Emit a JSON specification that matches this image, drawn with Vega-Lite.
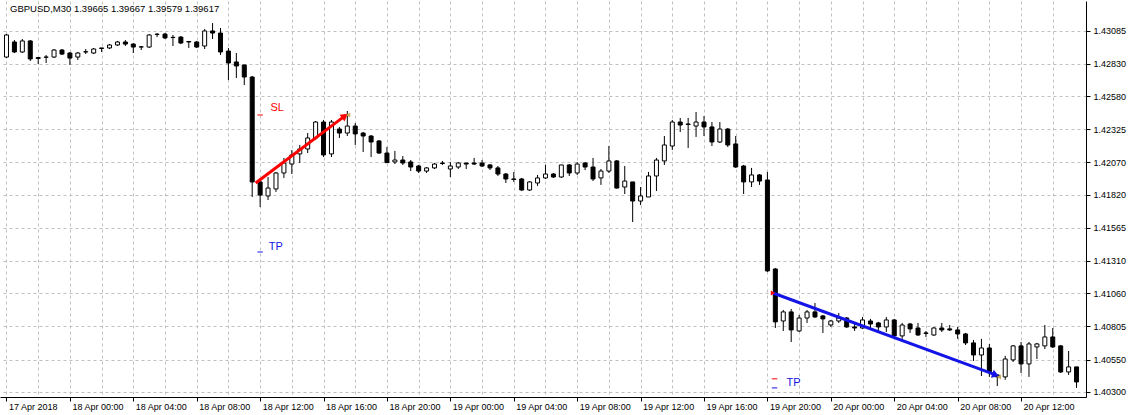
{
  "$schema": "https://vega.github.io/schema/vega-lite/v6.json",
  "width": 1086,
  "height": 396,
  "autosize": {"type": "none"},
  "padding": {"left": 0, "top": 1, "right": 45, "bottom": 18},
  "background": "white",
  "config": {
    "view": {"stroke": null},
    "font": "Liberation Sans",
    "axis": {"labelFont": "Liberation Sans", "labelColor": "black", "tickColor": "black", "gridColor": "#c0c0c0", "gridDash": [3, 3], "gridWidth": 1, "domain": true, "domainColor": "black", "domainWidth": 1}
  },
  "datasets": {
    "candles": [
      {"i":0,"open":1.42882,"high":1.43059,"low":1.42874,"close":1.43052},
      {"i":1,"open":1.42998,"high":1.43013,"low":1.42913,"close":1.42921},
      {"i":2,"open":1.42921,"high":1.43021,"low":1.42913,"close":1.43006},
      {"i":3,"open":1.43006,"high":1.43013,"low":1.42851,"close":1.42867},
      {"i":4,"open":1.42878,"high":1.42882,"low":1.42828,"close":1.42871},
      {"i":5,"open":1.42880,"high":1.42898,"low":1.42836,"close":1.42882},
      {"i":6,"open":1.42882,"high":1.42944,"low":1.42874,"close":1.42936},
      {"i":7,"open":1.42936,"high":1.42944,"low":1.42898,"close":1.42905},
      {"i":8,"open":1.42913,"high":1.42921,"low":1.42821,"close":1.42874},
      {"i":9,"open":1.42882,"high":1.42921,"low":1.42859,"close":1.42913},
      {"i":10,"open":1.42921,"high":1.42944,"low":1.42905,"close":1.42923},
      {"i":11,"open":1.42913,"high":1.42952,"low":1.42905,"close":1.42944},
      {"i":12,"open":1.42952,"high":1.42952,"low":1.42921,"close":1.42948},
      {"i":13,"open":1.42952,"high":1.42982,"low":1.42944,"close":1.42975},
      {"i":14,"open":1.42975,"high":1.43006,"low":1.42967,"close":1.42998},
      {"i":15,"open":1.42998,"high":1.43013,"low":1.42967,"close":1.42982},
      {"i":16,"open":1.42982,"high":1.42990,"low":1.42913,"close":1.42959},
      {"i":17,"open":1.42959,"high":1.42967,"low":1.42936,"close":1.42961},
      {"i":18,"open":1.42959,"high":1.43059,"low":1.42952,"close":1.43052},
      {"i":19,"open":1.43056,"high":1.43067,"low":1.43036,"close":1.43058},
      {"i":20,"open":1.43059,"high":1.43067,"low":1.43021,"close":1.43029},
      {"i":21,"open":1.43032,"high":1.43052,"low":1.42967,"close":1.43034},
      {"i":22,"open":1.43036,"high":1.43044,"low":1.42982,"close":1.42990},
      {"i":23,"open":1.43002,"high":1.43002,"low":1.42952,"close":1.42998},
      {"i":24,"open":1.42998,"high":1.43006,"low":1.42952,"close":1.42959},
      {"i":25,"open":1.42967,"high":1.43098,"low":1.42944,"close":1.43083},
      {"i":26,"open":1.43083,"high":1.43144,"low":1.43021,"close":1.43067},
      {"i":27,"open":1.43067,"high":1.43106,"low":1.42898,"close":1.42921},
      {"i":28,"open":1.42928,"high":1.42952,"low":1.42705,"close":1.42836},
      {"i":29,"open":1.42844,"high":1.42913,"low":1.42720,"close":1.42813},
      {"i":30,"open":1.42821,"high":1.42821,"low":1.42666,"close":1.42728},
      {"i":31,"open":1.42728,"high":1.42736,"low":1.41803,"close":1.41919},
      {"i":32,"open":1.41919,"high":1.41934,"low":1.41726,"close":1.41818},
      {"i":33,"open":1.41811,"high":1.41957,"low":1.41780,"close":1.41872},
      {"i":34,"open":1.41865,"high":1.41996,"low":1.41842,"close":1.41988},
      {"i":35,"open":1.41988,"high":1.42104,"low":1.41950,"close":1.42065},
      {"i":36,"open":1.42057,"high":1.42165,"low":1.41980,"close":1.42127},
      {"i":37,"open":1.42135,"high":1.42204,"low":1.42065,"close":1.42173},
      {"i":38,"open":1.42173,"high":1.42296,"low":1.42142,"close":1.42258},
      {"i":39,"open":1.42258,"high":1.42389,"low":1.42242,"close":1.42381},
      {"i":40,"open":1.42381,"high":1.42397,"low":1.42111,"close":1.42127},
      {"i":41,"open":1.42135,"high":1.42397,"low":1.42111,"close":1.42381},
      {"i":42,"open":1.42327,"high":1.42343,"low":1.42258,"close":1.42296},
      {"i":43,"open":1.42296,"high":1.42466,"low":1.42273,"close":1.42350},
      {"i":44,"open":1.42350,"high":1.42373,"low":1.42204,"close":1.42289},
      {"i":45,"open":1.42296,"high":1.42304,"low":1.42150,"close":1.42273},
      {"i":46,"open":1.42273,"high":1.42281,"low":1.42111,"close":1.42227},
      {"i":47,"open":1.42235,"high":1.42242,"low":1.42135,"close":1.42142},
      {"i":48,"open":1.42142,"high":1.42188,"low":1.42065,"close":1.42068},
      {"i":49,"open":1.42073,"high":1.42158,"low":1.42057,"close":1.42088},
      {"i":50,"open":1.42088,"high":1.42119,"low":1.42050,"close":1.42065},
      {"i":51,"open":1.42073,"high":1.42088,"low":1.42003,"close":1.42034},
      {"i":52,"open":1.42042,"high":1.42050,"low":1.41988,"close":1.42003},
      {"i":53,"open":1.42003,"high":1.42034,"low":1.41988,"close":1.42027},
      {"i":54,"open":1.42027,"high":1.42065,"low":1.42019,"close":1.42057},
      {"i":55,"open":1.42065,"high":1.42081,"low":1.42050,"close":1.42061},
      {"i":56,"open":1.42019,"high":1.42073,"low":1.41957,"close":1.42042},
      {"i":57,"open":1.42034,"high":1.42073,"low":1.42019,"close":1.42065},
      {"i":58,"open":1.42065,"high":1.42065,"low":1.42019,"close":1.42057},
      {"i":59,"open":1.42065,"high":1.42104,"low":1.42050,"close":1.42057},
      {"i":60,"open":1.42065,"high":1.42088,"low":1.42034,"close":1.42042},
      {"i":61,"open":1.42050,"high":1.42057,"low":1.42011,"close":1.42027},
      {"i":62,"open":1.42027,"high":1.42042,"low":1.41965,"close":1.41980},
      {"i":63,"open":1.41980,"high":1.41988,"low":1.41911,"close":1.41942},
      {"i":64,"open":1.41942,"high":1.41996,"low":1.41919,"close":1.41938},
      {"i":65,"open":1.41942,"high":1.41950,"low":1.41849,"close":1.41857},
      {"i":66,"open":1.41857,"high":1.41926,"low":1.41849,"close":1.41919},
      {"i":67,"open":1.41911,"high":1.41973,"low":1.41888,"close":1.41950},
      {"i":68,"open":1.41950,"high":1.42050,"low":1.41942,"close":1.41980},
      {"i":69,"open":1.41980,"high":1.41988,"low":1.41950,"close":1.41957},
      {"i":70,"open":1.41957,"high":1.42050,"low":1.41950,"close":1.42050},
      {"i":71,"open":1.42050,"high":1.42057,"low":1.41965,"close":1.41988},
      {"i":72,"open":1.41988,"high":1.42073,"low":1.41973,"close":1.42057},
      {"i":73,"open":1.42065,"high":1.42073,"low":1.42011,"close":1.42034},
      {"i":74,"open":1.42034,"high":1.42104,"low":1.41926,"close":1.41942},
      {"i":75,"open":1.41950,"high":1.42019,"low":1.41896,"close":1.42003},
      {"i":76,"open":1.42003,"high":1.42196,"low":1.41988,"close":1.42081},
      {"i":77,"open":1.42081,"high":1.42088,"low":1.41868,"close":1.41872},
      {"i":78,"open":1.41880,"high":1.42042,"low":1.41826,"close":1.41926},
      {"i":79,"open":1.41919,"high":1.41919,"low":1.41610,"close":1.41772},
      {"i":80,"open":1.41772,"high":1.41880,"low":1.41741,"close":1.41811},
      {"i":81,"open":1.41803,"high":1.41996,"low":1.41803,"close":1.41965},
      {"i":82,"open":1.41965,"high":1.42104,"low":1.41849,"close":1.42088},
      {"i":83,"open":1.42081,"high":1.42273,"low":1.42050,"close":1.42204},
      {"i":84,"open":1.42196,"high":1.42397,"low":1.42165,"close":1.42381},
      {"i":85,"open":1.42381,"high":1.42412,"low":1.42304,"close":1.42358},
      {"i":86,"open":1.42366,"high":1.42412,"low":1.42181,"close":1.42362},
      {"i":87,"open":1.42350,"high":1.42458,"low":1.42266,"close":1.42381},
      {"i":88,"open":1.42381,"high":1.42427,"low":1.42273,"close":1.42343},
      {"i":89,"open":1.42343,"high":1.42381,"low":1.42196,"close":1.42227},
      {"i":90,"open":1.42227,"high":1.42381,"low":1.42219,"close":1.42327},
      {"i":91,"open":1.42327,"high":1.42335,"low":1.42188,"close":1.42204},
      {"i":92,"open":1.42212,"high":1.42273,"low":1.42027,"close":1.42034},
      {"i":93,"open":1.42042,"high":1.42050,"low":1.41826,"close":1.41919},
      {"i":94,"open":1.41919,"high":1.42027,"low":1.41880,"close":1.41973},
      {"i":95,"open":1.41973,"high":1.41980,"low":1.41896,"close":1.41926},
      {"i":96,"open":1.41934,"high":1.41996,"low":1.41225,"close":1.41233},
      {"i":97,"open":1.41248,"high":1.41256,"low":1.40793,"close":1.40840},
      {"i":98,"open":1.40847,"high":1.40932,"low":1.40770,"close":1.40917},
      {"i":99,"open":1.40917,"high":1.40940,"low":1.40685,"close":1.40778},
      {"i":100,"open":1.40770,"high":1.40894,"low":1.40762,"close":1.40870},
      {"i":101,"open":1.40870,"high":1.40932,"low":1.40832,"close":1.40917},
      {"i":102,"open":1.40917,"high":1.40986,"low":1.40870,"close":1.40878},
      {"i":103,"open":1.40886,"high":1.40894,"low":1.40755,"close":1.40863},
      {"i":104,"open":1.40816,"high":1.40855,"low":1.40801,"close":1.40847},
      {"i":105,"open":1.40847,"high":1.40909,"low":1.40832,"close":1.40870},
      {"i":106,"open":1.40870,"high":1.40878,"low":1.40793,"close":1.40801},
      {"i":107,"open":1.40801,"high":1.40832,"low":1.40770,"close":1.40793},
      {"i":108,"open":1.40793,"high":1.40878,"low":1.40786,"close":1.40855},
      {"i":109,"open":1.40847,"high":1.40863,"low":1.40793,"close":1.40824},
      {"i":110,"open":1.40832,"high":1.40840,"low":1.40770,"close":1.40801},
      {"i":111,"open":1.40801,"high":1.40878,"low":1.40762,"close":1.40855},
      {"i":112,"open":1.40855,"high":1.40863,"low":1.40724,"close":1.40732},
      {"i":113,"open":1.40732,"high":1.40832,"low":1.40709,"close":1.40816},
      {"i":114,"open":1.40824,"high":1.40832,"low":1.40755,"close":1.40786},
      {"i":115,"open":1.40793,"high":1.40832,"low":1.40732,"close":1.40739},
      {"i":116,"open":1.40755,"high":1.40770,"low":1.40724,"close":1.40751},
      {"i":117,"open":1.40739,"high":1.40801,"low":1.40732,"close":1.40793},
      {"i":118,"open":1.40793,"high":1.40832,"low":1.40762,"close":1.40778},
      {"i":119,"open":1.40786,"high":1.40816,"low":1.40770,"close":1.40778},
      {"i":120,"open":1.40778,"high":1.40801,"low":1.40709,"close":1.40747},
      {"i":121,"open":1.40747,"high":1.40755,"low":1.40662,"close":1.40678},
      {"i":122,"open":1.40678,"high":1.40701,"low":1.40539,"close":1.40585},
      {"i":123,"open":1.40585,"high":1.40709,"low":1.40423,"close":1.40639},
      {"i":124,"open":1.40639,"high":1.40670,"low":1.40416,"close":1.40454},
      {"i":125,"open":1.40431,"high":1.40431,"low":1.40346,"close":1.40416},
      {"i":126,"open":1.40416,"high":1.40578,"low":1.40393,"close":1.40554},
      {"i":127,"open":1.40547,"high":1.40662,"low":1.40531,"close":1.40655},
      {"i":128,"open":1.40655,"high":1.40685,"low":1.40446,"close":1.40516},
      {"i":129,"open":1.40516,"high":1.40685,"low":1.40416,"close":1.40670},
      {"i":130,"open":1.40647,"high":1.40678,"low":1.40554,"close":1.40670},
      {"i":131,"open":1.40655,"high":1.40816,"low":1.40631,"close":1.40724},
      {"i":132,"open":1.40724,"high":1.40793,"low":1.40639,"close":1.40647},
      {"i":133,"open":1.40655,"high":1.40662,"low":1.40446,"close":1.40454},
      {"i":134,"open":1.40454,"high":1.40616,"low":1.40431,"close":1.40493},
      {"i":135,"open":1.40493,"high":1.40493,"low":1.40331,"close":1.40377}
    ],
    "trades": [
      {"trade": "buy", "i": 31.44, "price": 1.41911},
      {"trade": "buy", "i": 42.7, "price": 1.42428},
      {"trade": "sell", "i": 96.7, "price": 1.41063},
      {"trade": "sell", "i": 124.8, "price": 1.40431}
    ],
    "exits": [
      {"i": 43.1, "price": 1.42435},
      {"i": 125.2, "price": 1.40416}
    ],
    "entries": [
      {"i": 96.7, "price": 1.41063}
    ],
    "levels": [
      {"i": 32.0, "price": 1.42435, "kind": "sl"},
      {"i": 32.0, "price": 1.41379, "kind": "tp"},
      {"i": 96.9, "price": 1.40401, "kind": "sl"},
      {"i": 96.9, "price": 1.40331, "kind": "tp"}
    ],
    "labels": [
      {"i": 33.3, "price": 1.42489, "text": "SL", "kind": "sl"},
      {"i": 33.1, "price": 1.41414, "text": "TP", "kind": "tp"},
      {"i": 98.4, "price": 1.40366, "text": "TP", "kind": "tp"}
    ],
    "header": [
      {"i": 0.45, "price": 1.43249, "text": "GBPUSD,M30  1.39665 1.39667 1.39579 1.39617"}
    ]
  },
  "encoding": {
    "x": {
      "field": "i", "type": "quantitative",
      "scale": {"domain": [-0.1875, 135.5625], "nice": false, "zero": false},
      "axis": {
        "title": null,
        "values": [0,4,8,12,16,20,24,28,32,36,40,44,48,52,56,60,64,68,72,76,80,84,88,92,96,100,104,108,112,116,120,124,128,132],
        "labelExpr": "datum.value == 0 ? '17 Apr 2018' : (datum.value % 8 == 0 ? (17 + floor((20 + datum.value / 2) / 24)) + ' Apr ' + ((20 + datum.value / 2) % 24 < 10 ? '0' : '') + ((20 + datum.value / 2) % 24) + ':00' : '')",
        "labelAlign": "left",
        "labelOffset": 2,
        "labelBaseline": "top",
        "labelPadding": 1,
        "labelFontSize": 9,
        "labelFlush": false,
        "labelOverlap": false,
        "tickSize": 4,
        "tickOpacity": {"condition": {"test": "datum.value % 8 == 0", "value": 1}, "value": 0},
        "grid": true
      }
    },
    "y": {
      "field": "price", "type": "quantitative",
      "scale": {"domain": [1.40261, 1.43314], "nice": false, "zero": false},
      "axis": {
        "title": null, "orient": "right",
        "values": [1.43085, 1.4283, 1.4258, 1.42325, 1.4207, 1.4182, 1.41565, 1.4131, 1.4106, 1.40805, 1.4055, 1.403],
        "format": ".5f", "labelFontSize": 9, "tickSize": 4, "labelPadding": 3, "grid": true
      }
    }
  },
  "layer": [
    {
      "data": {"name": "candles"},
      "mark": {"type": "rule", "color": "black", "strokeWidth": 1, "clip": true},
      "encoding": {
        "y": {
          "field": "low", "type": "quantitative",
          "scale": {"domain": [1.40261, 1.43314], "nice": false, "zero": false},
          "axis": {
            "title": null, "orient": "right",
            "values": [1.43085, 1.4283, 1.4258, 1.42325, 1.4207, 1.4182, 1.41565, 1.4131, 1.4106, 1.40805, 1.4055, 1.403],
            "format": ".5f", "labelFontSize": 9, "tickSize": 4, "labelPadding": 3, "grid": true
          }
        },
        "y2": {"field": "high"}
      }
    },
    {
      "data": {"name": "candles"},
      "mark": {"type": "bar", "width": 4, "stroke": "black", "strokeWidth": 1, "clip": true},
      "encoding": {
        "y": {
          "field": "open", "type": "quantitative",
          "scale": {"domain": [1.40261, 1.43314], "nice": false, "zero": false},
          "axis": {
            "title": null, "orient": "right",
            "values": [1.43085, 1.4283, 1.4258, 1.42325, 1.4207, 1.4182, 1.41565, 1.4131, 1.4106, 1.40805, 1.4055, 1.403],
            "format": ".5f", "labelFontSize": 9, "tickSize": 4, "labelPadding": 3, "grid": true
          }
        },
        "y2": {"field": "close"},
        "fill": {"condition": {"test": "datum.close < datum.open", "value": "black"}, "value": "white"}
      }
    },
    {
      "data": {"name": "trades"},
      "mark": {"type": "line", "strokeWidth": 3},
      "encoding": {
        "detail": {"field": "trade"},
        "color": {"field": "trade", "type": "nominal", "scale": {"domain": ["buy", "sell"], "range": ["#ff0000", "#1414e6"]}, "legend": null}
      }
    },
    {
      "data": {"name": "trades"},
      "transform": [{"filter": "datum.trade == 'buy' && datum.i > 40"}],
      "mark": {"type": "point", "shape": "triangle-up", "filled": true, "color": "#ff0000", "size": 70, "angle": 54, "opacity": 1}
    },
    {
      "data": {"name": "trades"},
      "transform": [{"filter": "datum.trade == 'sell' && datum.i > 100"}],
      "mark": {"type": "point", "shape": "triangle-up", "filled": true, "color": "#1414e6", "size": 70, "angle": 110, "opacity": 1}
    },
    {
      "data": {"name": "exits"},
      "mark": {"type": "point", "shape": "triangle-left", "filled": true, "color": "#c8a85a", "size": 25, "opacity": 1}
    },
    {
      "data": {"name": "entries"},
      "mark": {"type": "point", "shape": "triangle-right", "filled": true, "color": "#ff0000", "size": 25, "opacity": 1}
    },
    {
      "data": {"name": "levels"},
      "mark": {"type": "point", "shape": "stroke", "filled": false, "strokeWidth": 1, "size": 30, "opacity": 1},
      "encoding": {
        "color": {"field": "kind", "type": "nominal", "scale": {"domain": ["sl", "tp"], "range": ["#e01010", "#1010d0"]}, "legend": null}
      }
    },
    {
      "data": {"name": "labels"},
      "mark": {"type": "text", "align": "left", "baseline": "middle", "fontSize": 11, "font": "Liberation Sans"},
      "encoding": {
        "text": {"field": "text"},
        "color": {"field": "kind", "type": "nominal", "scale": {"domain": ["sl", "tp"], "range": ["#e01010", "#1010d0"]}, "legend": null}
      }
    },
    {
      "data": {"name": "header"},
      "mark": {"type": "text", "align": "left", "baseline": "middle", "fontSize": 9.5, "color": "black", "font": "Liberation Sans"},
      "encoding": {
        "text": {"field": "text"}
      }
    }
  ]
}
